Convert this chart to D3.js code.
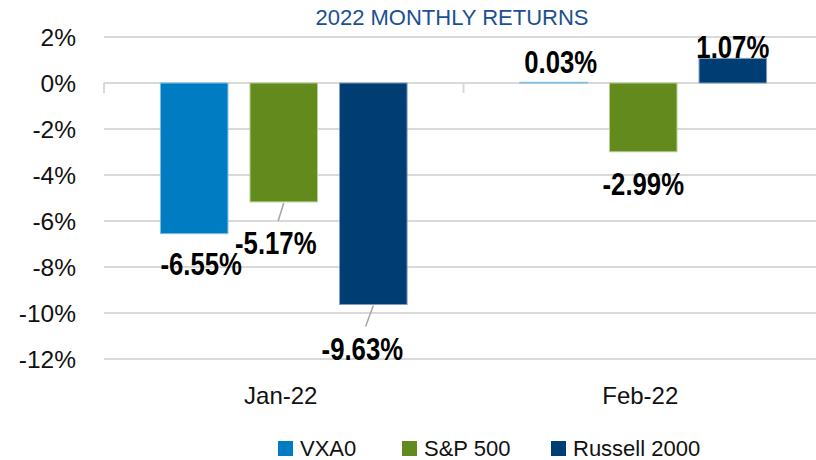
<!DOCTYPE html>
<html>
<head>
<meta charset="utf-8">
<script src="https://cdn.jsdelivr.net/npm/d3@7"></script>
<style>
  body { margin: 0; background: #fff; }
  svg { display: block; }
</style>
</head>
<body>
<svg id="chart"></svg>
<script>
// data
const categories = ["Jan-22", "Feb-22"];
const seriesNames = ["VXA0", "S&P 500", "Russell 2000"];
const vxa0 = [-6.55, 0.03];
const sp500 = [-5.17, -2.99];
const russell2000 = [-9.63, 1.07];
const yTicks = [2, 0, -2, -4, -6, -8, -10, -12];

const seriesValues = [vxa0, sp500, russell2000];
const colors = ["#007cc3", "#638a1c", "#003d73"];
const strokes = ["#7fbde3", "#b9cf94", "#7f9dbb"];

// label nudges relative to bar end (px), and whether a leader line is drawn
const labelNudge = {
  "Jan-22": [[7, 30, false], [-8, 41, true], [-11, 44, true]],
  "Feb-22": [[7, -20, false], [0, 32, false], [0, -12, false]]
};

const width = 816, height = 460;
const margin = { top: 37, right: -7, bottom: 101, left: 104 };

const svg = d3.select("#chart")
  .attr("width", width)
  .attr("height", height);

const x0 = d3.scaleBand()
  .domain(categories)
  .range([margin.left, width - margin.right])
  .padding(0);

const x1 = d3.scaleBand()
  .domain(seriesNames)
  .range([0, x0.bandwidth()])
  .paddingInner(0.246)
  .paddingOuter(0.63);

const y = d3.scaleLinear()
  .domain([-12, 2])
  .range([height - margin.bottom, margin.top]);

// gridlines
svg.append("g")
  .selectAll("line")
  .data(yTicks)
  .join("line")
  .attr("x1", margin.left)
  .attr("x2", width)
  .attr("y1", d => y(d))
  .attr("y2", d => y(d))
  .attr("stroke", "#d9d9d9")
  .attr("stroke-width", 2);

// category tick marks on the zero line
svg.append("g")
  .selectAll("line")
  .data(categories)
  .join("line")
  .attr("x1", d => x0(d))
  .attr("x2", d => x0(d))
  .attr("y1", y(0))
  .attr("y2", y(0) + 10)
  .attr("stroke", "#d9d9d9")
  .attr("stroke-width", 2);

// y axis labels
svg.append("g")
  .selectAll("text")
  .data(yTicks)
  .join("text")
  .attr("x", 76)
  .attr("y", d => y(d))
  .attr("dy", "0.36em")
  .attr("text-anchor", "end")
  .attr("font-family", "Liberation Sans, Arial, sans-serif")
  .attr("font-size", 24.5)
  .attr("fill", "#111")
  .text(d => d + "%");

// x axis labels
svg.append("g")
  .selectAll("text")
  .data(categories)
  .join("text")
  .attr("x", d => x0(d) + x0.bandwidth() / 2 - 3)
  .attr("y", 404)
  .attr("text-anchor", "middle")
  .attr("font-family", "Liberation Sans, Arial, sans-serif")
  .attr("font-size", 24)
  .attr("fill", "#111")
  .text(d => d);

// flatten bars
const bars = [];
categories.forEach((c, ci) => {
  seriesNames.forEach((s, si) => {
    bars.push({ cat: c, series: s, si: si, value: seriesValues[si][ci], nudge: labelNudge[c][si] });
  });
});

const g = svg.append("g");

g.selectAll("rect")
  .data(bars)
  .join("rect")
  .attr("x", d => x0(d.cat) + x1(d.series))
  .attr("y", d => y(Math.max(0, d.value)))
  .attr("width", x1.bandwidth())
  .attr("height", d => Math.abs(y(d.value) - y(0)))
  .attr("fill", d => colors[d.si])
  .attr("stroke", d => strokes[d.si])
  .attr("stroke-width", 1);

// leader lines
g.selectAll("line.leader")
  .data(bars.filter(d => d.nudge[2]))
  .join("line")
  .attr("class", "leader")
  .attr("x1", d => x0(d.cat) + x1(d.series) + x1.bandwidth() / 2)
  .attr("y1", d => y(d.value) + 1)
  .attr("x2", d => x0(d.cat) + x1(d.series) + x1.bandwidth() / 2 + d.nudge[0] * 0.7)
  .attr("y2", d => y(d.value) + d.nudge[1] - 22)
  .attr("stroke", "#a6a6a6")
  .attr("stroke-width", 1.5);

// data labels (condensed bold, like the original)
g.selectAll("text.val")
  .data(bars)
  .join("text")
  .attr("class", "val")
  .attr("transform", d => {
    const lx = x0(d.cat) + x1(d.series) + x1.bandwidth() / 2 + d.nudge[0];
    const ly = y(d.value) + d.nudge[1];
    return `translate(${lx}, ${ly}) scale(0.83, 1)`;
  })
  .attr("dy", "0.36em")
  .attr("text-anchor", "middle")
  .attr("font-family", "Liberation Sans, Arial, sans-serif")
  .attr("font-weight", "bold")
  .attr("font-size", 31)
  .attr("fill", "#000")
  .text(d => d.value.toFixed(2) + "%");

// title
svg.append("text")
  .attr("x", 452)
  .attr("y", 25)
  .attr("text-anchor", "middle")
  .attr("font-family", "Liberation Sans, Arial, sans-serif")
  .attr("font-size", 22)
  .attr("fill", "#1b5190")
  .text("2022 MONTHLY RETURNS");

// legend
const legendX = [278, 402, 551];
const legend = svg.append("g")
  .selectAll("g")
  .data(seriesNames)
  .join("g")
  .attr("transform", (d, i) => `translate(${legendX[i]}, 441)`);

legend.append("rect")
  .attr("width", 15)
  .attr("height", 15)
  .attr("fill", (d, i) => colors[i]);

legend.append("text")
  .attr("x", 22)
  .attr("y", 15)
  .attr("font-family", "Liberation Sans, Arial, sans-serif")
  .attr("font-size", 22)
  .attr("fill", "#111")
  .text(d => d);
</script>
</body>
</html>
